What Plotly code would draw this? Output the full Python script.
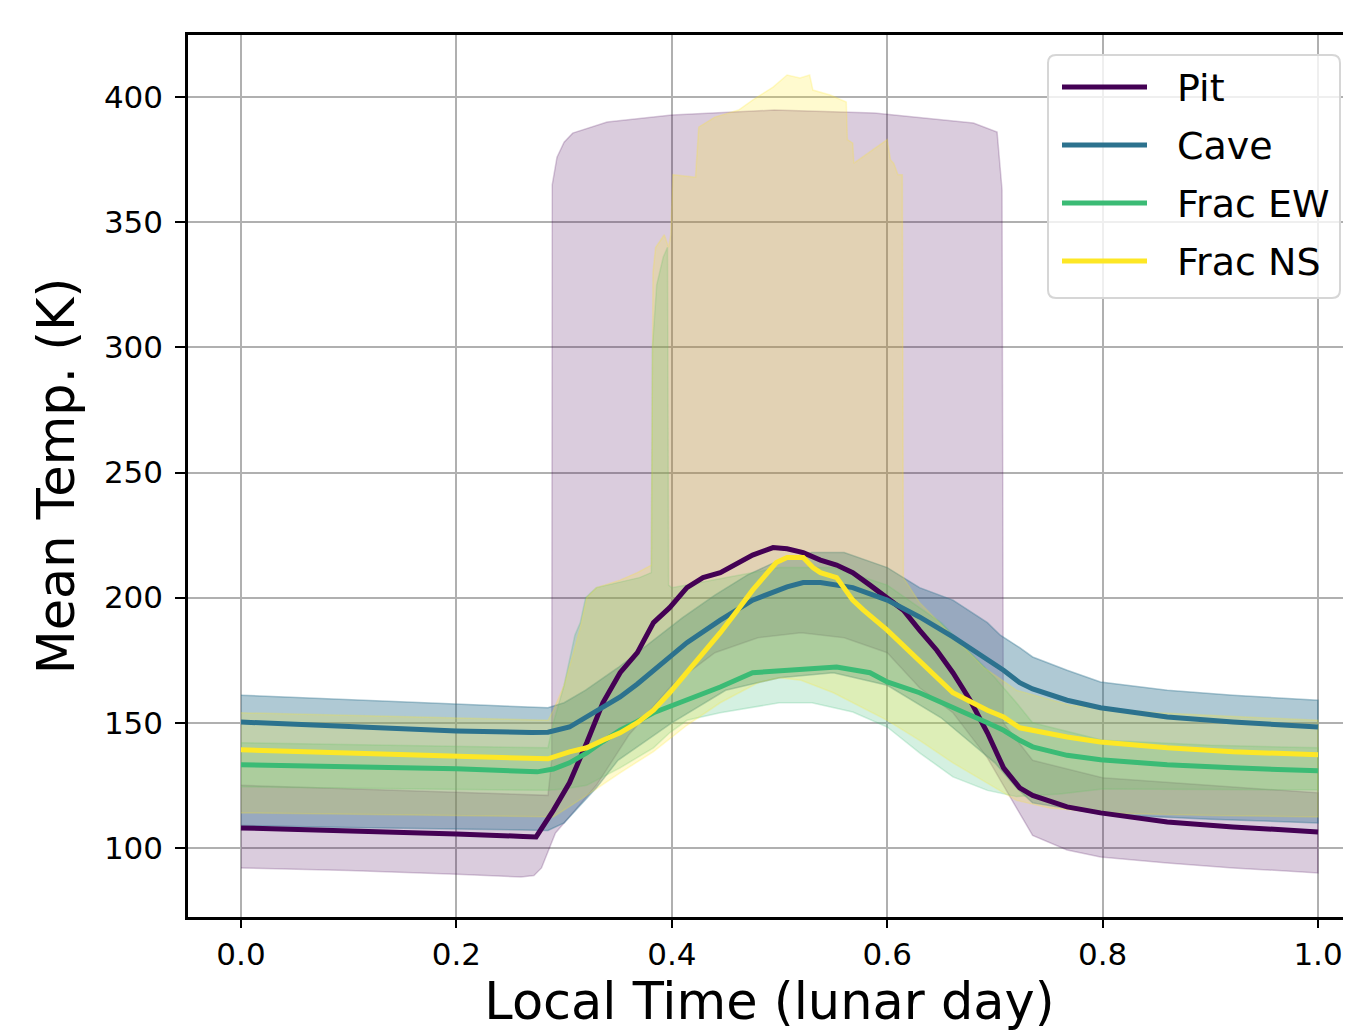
import plotly.graph_objects as go

# ---------------- data ----------------
series_names = ["Pit", "Cave", "Frac EW", "Frac NS"]

pit_t = [0.0, 0.1, 0.2, 0.262, 0.274, 0.29, 0.305, 0.321, 0.336, 0.352, 0.368, 0.383, 0.398, 0.414,
         0.429, 0.445, 0.461, 0.475, 0.494, 0.507, 0.522, 0.538, 0.553, 0.568, 0.584, 0.600, 0.615,
         0.630, 0.646, 0.661, 0.677, 0.693, 0.708, 0.723, 0.735, 0.767, 0.798, 0.860, 0.921, 1.0]
pit_mean = [108, 107, 105.6, 104.6, 104.4, 115, 126, 142, 158, 170, 178, 190, 196, 204,
            208, 210, 214, 217, 220, 219.5, 218, 215, 213, 210, 205, 200, 195,
            187, 179, 170, 159, 146, 132, 124, 121, 116.4, 114, 110.4, 108.4, 106.4]

cave_t = [0.0, 0.1, 0.2, 0.27, 0.285, 0.305, 0.321, 0.336, 0.352, 0.368, 0.383, 0.398, 0.414, 0.445,
          0.475, 0.507, 0.522, 0.538, 0.553, 0.568, 0.600, 0.630, 0.661, 0.693, 0.708, 0.723, 0.735,
          0.767, 0.798, 0.860, 0.921, 1.0]
cave_mean = [150.3, 148.5, 146.7, 146.1, 146.2, 148.3, 152.3, 156, 160.3, 165.5, 171, 176.3, 182, 191,
             199, 204.3, 206, 206, 205, 204, 199, 192.3, 184.3, 175, 171, 166, 163.5,
             159, 156, 152.3, 150.3, 148.3]

ew_t = [0.0, 0.1, 0.2, 0.275, 0.29, 0.305, 0.321, 0.336, 0.352, 0.368, 0.383, 0.398, 0.414, 0.445,
        0.475, 0.507, 0.538, 0.553, 0.584, 0.600, 0.630, 0.661, 0.693, 0.708, 0.723, 0.735, 0.767,
        0.798, 0.860, 0.921, 1.0]
ew_mean = [133.2, 132.4, 131.6, 130.4, 131.5, 134, 138, 142.5, 147, 150.5, 154, 156.5, 159, 164.3,
           170, 171, 171.9, 172.3, 170, 166.3, 162, 156.3, 150, 147, 143, 140.4, 137,
           135.2, 133.2, 132, 130.8]

ns_t = [0.0, 0.1, 0.2, 0.285, 0.305, 0.321, 0.336, 0.352, 0.368, 0.383, 0.398, 0.414, 0.429, 0.445,
        0.461, 0.475, 0.497, 0.507, 0.522, 0.531, 0.538, 0.553, 0.568, 0.578, 0.600, 0.630, 0.661,
        0.693, 0.708, 0.723, 0.735, 0.767, 0.798, 0.860, 0.921, 1.0]
ns_mean = [139.2, 137.8, 136.4, 135.6, 138.4, 140, 143, 146, 150, 155, 162, 170, 178, 186,
           195, 203, 214, 216, 216, 212, 210, 208, 199, 195, 187, 175, 162,
           155, 152.3, 148, 147, 144.3, 142.3, 140, 138.4, 137.2]

# spread bands (upper / lower envelopes)
pit_up_t = [0.0, 0.2, 0.285, 0.2885, 0.289, 0.2934, 0.300, 0.308, 0.34, 0.4, 0.495, 0.588, 0.68,
            0.702, 0.7066, 0.7078, 0.735, 0.8, 1.0]
pit_up = [125, 122, 121, 135, 365, 376, 382, 385.6, 390, 392.8, 394.8, 393.6, 389.6,
          386, 363, 150, 135, 128, 122]
pit_lo_t = [0.0, 0.1, 0.2, 0.26, 0.272, 0.279, 0.292, 0.31, 0.33, 0.36, 0.40, 0.44, 0.48, 0.52,
            0.56, 0.60, 0.63, 0.661, 0.693, 0.708, 0.72, 0.735, 0.767, 0.798, 0.860, 0.921, 1.0]
pit_lo = [92, 91, 89.5, 88.4, 89, 92, 106, 115, 125, 145, 165, 178, 184, 186,
          184, 178, 164, 154, 136, 125, 116, 105, 99.2, 96.4, 94, 92, 90]

cave_up_t = [0.0, 0.1, 0.2, 0.285, 0.3, 0.32, 0.35, 0.38, 0.41, 0.44, 0.47, 0.5, 0.53, 0.56, 0.6,
             0.63, 0.661, 0.693, 0.705, 0.723, 0.735, 0.767, 0.798, 0.86, 0.921, 1.0]
cave_up = [161, 159.3, 157.5, 156, 158, 163, 172, 182, 192, 201, 209, 215, 218, 218, 212,
           204, 199, 190, 185, 180, 176.3, 171, 166.3, 163, 161, 159]
cave_lo_t = [0.0, 0.1, 0.2, 0.285, 0.3, 0.33, 0.35, 0.4, 0.45, 0.5, 0.55, 0.6, 0.65, 0.7, 0.72,
             0.735, 0.8, 0.9, 1.0]
cave_lo = [109, 108.2, 107.5, 107, 110, 124, 135, 150, 163, 168, 170, 165, 152, 134, 124,
           118, 113.5, 111.5, 110]

ew_up_t = [0.0, 0.1, 0.2, 0.285, 0.29, 0.3, 0.31, 0.315, 0.32, 0.33, 0.35, 0.37, 0.381, 0.382,
           0.386, 0.392, 0.396, 0.397, 0.4, 0.45, 0.5, 0.55, 0.6, 0.65, 0.7, 0.72, 0.735, 0.8, 0.9, 1.0]
ew_up = [142, 141.2, 140.5, 140, 150, 165, 185, 190, 200, 204, 206, 208, 210, 300,
         325, 336, 340, 205, 204, 208, 212, 212, 205, 190, 168, 158, 150, 143, 141, 140]
ew_lo_t = [0.0, 0.1, 0.2, 0.285, 0.3, 0.321, 0.352, 0.383, 0.398, 0.414, 0.445, 0.5, 0.53, 0.568,
           0.6, 0.63, 0.661, 0.693, 0.72, 0.76, 0.8, 0.9, 1.0]
ew_lo = [124.4, 124, 123.5, 123, 123.5, 125, 132, 140, 146, 151, 154, 158, 158, 154.3,
         148.3, 138, 128.4, 123, 120.5, 121.5, 123.5, 123.3, 123.2]

ns_up_t = [0.0, 0.1, 0.2, 0.285, 0.29, 0.3, 0.31, 0.315, 0.321, 0.33, 0.352, 0.368, 0.381, 0.3825,
           0.385, 0.393, 0.397, 0.399, 0.401, 0.422, 0.425, 0.44, 0.462, 0.475, 0.494, 0.507, 0.519,
           0.528, 0.531, 0.547, 0.562, 0.563, 0.568, 0.569, 0.60, 0.603, 0.606, 0.61, 0.614, 0.615,
           0.63, 0.66, 0.69, 0.72, 0.77, 0.85, 1.0]
ns_up = [154, 153, 152, 151, 155, 165, 180, 188, 200, 204, 207, 210, 213, 330,
         340, 345, 340, 345, 369, 368, 388, 392, 394.8, 398.8, 404, 408.8, 407.6,
         408.8, 402.8, 400.8, 398, 383, 381.6, 373.6, 383, 375, 373.6, 369, 369, 208,
         198, 185, 172, 163, 157, 154, 151]
ns_lo_t = [0.0, 0.1, 0.2, 0.285, 0.29, 0.321, 0.352, 0.383, 0.414, 0.445, 0.48, 0.5, 0.52, 0.55,
           0.6, 0.63, 0.661, 0.693, 0.72, 0.75, 0.8, 0.9, 1.0]
ns_lo = [114, 113.5, 113, 112.5, 112.4, 121, 130, 138.5, 149, 158, 166, 168, 167, 162,
         151, 143, 134, 126, 119, 116, 114, 113, 112.4]

x_tick_vals = [0.0, 0.2, 0.4, 0.6, 0.8, 1.0]
x_tick_text = ["0.0", "0.2", "0.4", "0.6", "0.8", "1.0"]
y_tick_vals = [100, 150, 200, 250, 300, 350, 400]
y_tick_text = ["100", "150", "200", "250", "300", "350", "400"]

# ---------------- styling ----------------
line_colors = ["#440154", "#2c728e", "#3bbb75", "#fde725"]
rgb = [(68, 1, 84), (44, 114, 142), (59, 187, 117), (253, 231, 37)]
alphas = [0.2, 0.38, 0.22, 0.22]
FONT = "DejaVu Sans"

means = [(pit_t, pit_mean), (cave_t, cave_mean), (ew_t, ew_mean), (ns_t, ns_mean)]
bands = [(pit_up_t, pit_up, pit_lo_t, pit_lo), (cave_up_t, cave_up, cave_lo_t, cave_lo),
         (ew_up_t, ew_up, ew_lo_t, ew_lo), (ns_up_t, ns_up, ns_lo_t, ns_lo)]

# page body has an 8px margin; the plot area spans screen x 188..1351, y 35..917
FIG_W, FIG_H = 1343, 1024
ML, MT, MB, MR = 180, 27, 115, 0
PLOT_X0, PLOT_X1, PLOT_Y0, PLOT_Y1 = 188, 1351, 35, 917


def px(X):
    return (X - PLOT_X0) / (PLOT_X1 - PLOT_X0)


def py(Y):
    return (PLOT_Y1 - Y) / (PLOT_Y1 - PLOT_Y0)


fig = go.Figure()

for i, (ut, uv, lt, lv) in enumerate(bands):
    r, g, b = rgb[i]
    a = alphas[i]
    fig.add_trace(go.Scatter(
        x=list(ut) + list(reversed(lt)),
        y=list(uv) + list(reversed(lv)),
        mode="lines", fill="toself",
        fillcolor=f"rgba({r},{g},{b},{a})",
        line=dict(color=f"rgba({r},{g},{b},{a})", width=1.5),
        showlegend=False, hoverinfo="skip"))

for i, (t, m) in enumerate(means):
    fig.add_trace(go.Scatter(
        x=t, y=m, mode="lines", name=series_names[i],
        line=dict(color=line_colors[i], width=5),
        showlegend=False))

# ---- legend drawn like matplotlib's (long line samples, rounded frame) ----
bx0, bx1, by0, by1, rad = 1048, 1340, 55, 298, 8
path = (f"M {px(bx0 + rad)} {py(by0)} L {px(bx1 - rad)} {py(by0)} "
        f"Q {px(bx1)} {py(by0)} {px(bx1)} {py(by0 + rad)} "
        f"L {px(bx1)} {py(by1 - rad)} Q {px(bx1)} {py(by1)} {px(bx1 - rad)} {py(by1)} "
        f"L {px(bx0 + rad)} {py(by1)} Q {px(bx0)} {py(by1)} {px(bx0)} {py(by1 - rad)} "
        f"L {px(bx0)} {py(by0 + rad)} Q {px(bx0)} {py(by0)} {px(bx0 + rad)} {py(by0)} Z")
shapes = [dict(type="path", xref="paper", yref="paper", path=path,
               fillcolor="rgba(255,255,255,0.8)", line=dict(color="#d6d6d6", width=2),
               layer="above")]
annotations = []
row_y = [87, 145, 203, 261]
for i, name in enumerate(series_names):
    shapes.append(dict(type="line", xref="paper", yref="paper",
                       x0=px(1062), x1=px(1147), y0=py(row_y[i]), y1=py(row_y[i]),
                       line=dict(color=line_colors[i], width=5), layer="above"))
    annotations.append(dict(xref="paper", yref="paper", x=px(1175), y=py(row_y[i] + 1),
                            xanchor="left", yanchor="middle", showarrow=False, text=name,
                            font=dict(family=FONT, size=38, color="black")))

fig.update_layout(
    width=FIG_W, height=FIG_H,
    margin=dict(l=ML, r=MR, t=MT, b=MB),
    paper_bgcolor="white", plot_bgcolor="white",
    font=dict(family=FONT, size=31, color="black"),
    showlegend=False,
    shapes=shapes, annotations=annotations,
)

fig.update_xaxes(
    range=[-0.0492, 1.0306], tickvals=x_tick_vals, ticktext=x_tick_text,
    showgrid=True, gridcolor="#b0b0b0", gridwidth=2,
    showline=True, linecolor="black", linewidth=2.5, mirror=True,
    ticks="outside", ticklen=8, tickwidth=2, tickcolor="black",
    zeroline=False,
    title=dict(text="Local Time (lunar day)", font=dict(family=FONT, size=51), standoff=12))

fig.update_yaxes(
    range=[72.4, 424.8], tickvals=y_tick_vals, ticktext=y_tick_text,
    showgrid=True, gridcolor="#b0b0b0", gridwidth=2,
    showline=True, linecolor="black", linewidth=2.5,
    ticks="outside", ticklen=10, tickwidth=2, tickcolor="black",
    ticklabelstandoff=6,
    zeroline=False,
    title=dict(text="Mean Temp. (K)", font=dict(family=FONT, size=51), standoff=14))

fig.write_html("out.html")
